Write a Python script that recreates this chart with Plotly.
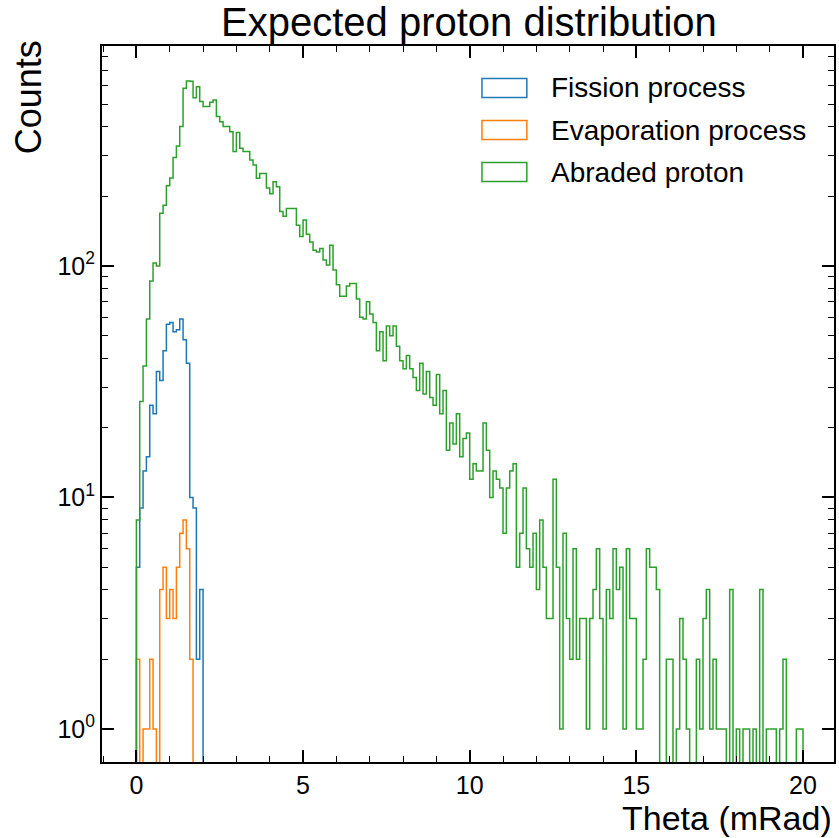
import plotly.graph_objects as go

# ---------------- data (histogram counts, 0.1 mRad bins starting at 0) ----------------
BIN_WIDTH = 0.1

fission_counts = [5, 9, 13, 15, 25, 23, 35, 32, 43, 56,
                  57, 52, 53, 59, 48, 38, 10, 9, 2, 4]

evaporation_counts = [2, 0, 1, 1, 2, 1, 0, 4, 5, 3,
                      4, 3, 5, 7, 8, 6, 2]

abraded_counts = [
    8, 26, 37, 59, 86, 103, 100, 169, 183, 222,
    240, 294, 330, 400, 586, 630, 628, 533, 595, 513,
    488, 488, 510, 521, 442, 420, 400, 400, 380, 312,
    377, 322, 312, 312, 287, 273, 239, 251, 251, 217,
    205, 231, 220, 172, 164, 177, 177, 177, 150, 134,
    158, 137, 127, 117, 115, 119, 106, 101, 123, 96,
    83, 74, 74, 82, 84, 84, 72, 60, 59, 70,
    62, 57, 43, 52, 39, 55, 50, 55, 45, 39,
    36, 41, 36, 33, 29, 38, 28, 35, 27, 25,
    34, 23, 29, 16, 21, 17, 23, 15, 18, 19,
    12, 14, 13, 13, 21, 16, 10, 13, 12, 11,
    7, 11, 13, 14, 5, 7, 11, 6, 5, 7,
    4, 8, 5, 3, 3, 12, 5, 1, 7, 3,
    2, 6, 2, 3, 3, 1, 3, 4, 6, 3,
    1, 4, 3, 6, 4, 5, 1, 6, 3, 3,
    1, 1, 2, 6, 5, 5, 4, 0, 0, 2,
    2, 0, 1, 3, 2, 1, 0, 0, 2, 1,
    3, 4, 1, 2, 1, 1, 1, 0, 4, 0,
    1, 0, 1, 1, 0, 1, 0, 4, 0, 1,
    1, 1, 0, 1, 2, 0, 0, 0, 1, 1,
]

series_names = ["Fission process", "Evaporation process", "Abraded proton"]
series_counts = [fission_counts, evaporation_counts, abraded_counts]
series_colors = ["#1f77b4", "#ff7f0e", "#2ca02c"]

x_tick_vals = [0, 5, 10, 15, 20]
y_tick_vals = [1, 10, 100]
y_tick_text = ["10<sup>0</sup>", "10<sup>1</sup>", "10<sup>2</sup>"]
y_minor_vals = [m * d for d in (1, 10, 100) for m in range(2, 10)]

TITLE = "Expected proton distribution"
X_LABEL = "Theta (mRad)"
Y_LABEL = "Counts"

# ---------------- layout geometry ----------------
W, H = 839, 838
L, R, T, B = 102, 3, 46, 76
PW, PH = W - L - R, H - T - B
FLOOR = 0.3  # empty bins drop below the visible log range, like matplotlib


def px_x(px):
    return (px - L) / PW


def px_y(py):
    return (H - B - py) / PH


def step_path(counts, width, floor):
    xs, ys = [0.0], [floor]
    for i, c in enumerate(counts):
        v = c if c > 0 else floor
        xs += [i * width, (i + 1) * width]
        ys += [v, v]
    xs.append(len(counts) * width)
    ys.append(floor)
    return xs, ys


fig = go.Figure()
for name, counts, color in zip(series_names, series_counts, series_colors):
    xs, ys = step_path(counts, BIN_WIDTH, FLOOR)
    fig.add_trace(go.Scatter(x=xs, y=ys, mode="lines", name=name,
                             line=dict(color=color, width=1.5),
                             showlegend=False, hoverinfo="skip"))

FONT = "Liberation Sans, Arial, sans-serif"

fig.update_layout(
    width=W, height=H, autosize=False,
    margin=dict(l=L, r=R, t=T, b=B, pad=0),
    paper_bgcolor="white", plot_bgcolor="white",
    font=dict(family=FONT, color="black", size=24),
)

fig.update_xaxes(
    range=[-1.032, 20.93], showgrid=False, zeroline=False,
    showline=True, linecolor="black", linewidth=2, mirror="ticks",
    ticks="inside", ticklen=12, tickwidth=1.5, tickcolor="black",
    tickvals=x_tick_vals, tickfont=dict(size=25),
    minor=dict(ticks="inside", ticklen=6, tickwidth=1.2, tickcolor="black", dtick=1, showgrid=False),
)
fig.update_yaxes(
    type="log", range=[-0.1425, 2.950], showgrid=False, zeroline=False,
    showline=True, linecolor="black", linewidth=2, mirror="ticks",
    ticks="inside", ticklen=12, tickwidth=1.5, tickcolor="black",
    tickvals=y_tick_vals, ticktext=y_tick_text, tickfont=dict(size=25),
    minor=dict(ticks="inside", ticklen=6, tickwidth=1.2, tickcolor="black",
               tickvals=y_minor_vals, showgrid=False),
)

annotations = [
    dict(text=TITLE, xref="paper", yref="paper", x=px_x(470), y=px_y(22),
         xanchor="center", yanchor="middle", showarrow=False,
         font=dict(size=40, family=FONT)),
    dict(text=X_LABEL, xref="paper", yref="paper", x=1.0, y=px_y(818),
         xanchor="right", yanchor="middle", showarrow=False,
         font=dict(size=34, family=FONT)),
    dict(text=Y_LABEL, xref="paper", yref="paper", x=px_x(29), y=px_y(38),
         xanchor="center", yanchor="top", textangle=-90, showarrow=False,
         font=dict(size=36, family=FONT)),
]

shapes = []
legend_rows = [88, 130, 172]
for name, color, cy in zip(series_names, series_colors, legend_rows):
    shapes.append(dict(type="rect", xref="paper", yref="paper",
                       x0=px_x(483), x1=px_x(528), y0=px_y(cy + 9.5), y1=px_y(cy - 9.5),
                       line=dict(color=color, width=1.5), fillcolor="rgba(0,0,0,0)"))
    annotations.append(dict(text=name, xref="paper", yref="paper", x=px_x(550), y=px_y(cy),
                            xanchor="left", yanchor="middle", showarrow=False,
                            font=dict(size=28, family=FONT)))

fig.update_layout(annotations=annotations, shapes=shapes)
fig.write_html("out.html")
